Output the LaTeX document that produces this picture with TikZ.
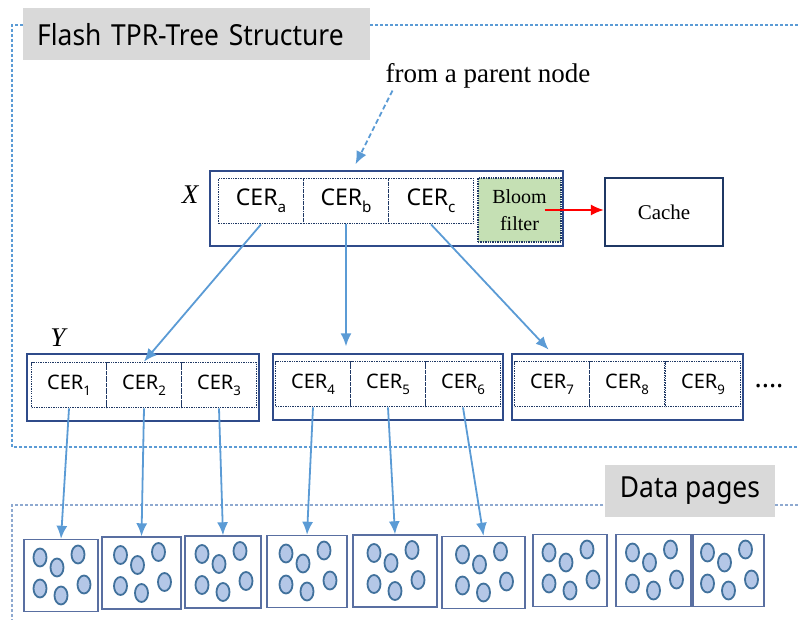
\documentclass[tikz,border=0pt]{standalone}
\usepackage{fontspec}
\setmainfont{Liberation Serif}
\setsansfont{Noto Sans}
\newfontfamily\tagfont[FakeStretch=0.91]{Noto Sans}
\usetikzlibrary{arrows.meta}

\definecolor{linkblue}{HTML}{5B9BD5}
\definecolor{pageblue}{HTML}{8EA9D0}
\definecolor{boxnavy}{HTML}{2F4B8A}
\definecolor{dotnavy}{HTML}{1F3864}
\definecolor{tagfill}{HTML}{D9D9D9}
\definecolor{bloomfill}{HTML}{C5E0B4}
\definecolor{itemfill}{HTML}{B4C7E7}
\definecolor{itemline}{HTML}{41719C}

% CER entry with its index set low
\newcommand{\cer}[1]{CER\raisebox{-.3em}{\scalebox{.66}{#1}}}

\begin{document}
\begin{tikzpicture}[x=1pt,y=-1pt,
				frame/.style={draw=linkblue,line width=1.3pt,dash pattern=on 3pt off 2pt},
				pageframe/.style={draw=pageblue,line width=1.1pt,dash pattern=on 3pt off 2pt},
				tag/.style={fill=tagfill,inner sep=0pt,font={\tagfont\fontsize{29}{29}\selectfont}},
				outer/.style={draw=boxnavy,line width=1.4pt,inner sep=0pt},
				cerbox/.style={draw=dotnavy,line width=1.8pt,dash pattern=on 1.4pt off 1pt,inner sep=0pt,
					minimum width=75pt,minimum height=45pt,font={\sffamily\fontsize{20}{20}\selectfont}},
				page/.style={draw=boxnavy!80,line width=1.4pt,inner sep=0pt,minimum height=72pt},
				item/.style={draw=itemline,fill=itemfill,line width=1.8pt},
				link/.style={->,draw=linkblue,line width=1.8pt},
				>={Latex[length=13pt,width=11pt]}]
				
				\useasboundingbox (0,0) rectangle (798,620);
				
				% Dashed frames
				\draw[frame] (798,25) -- (12,25) -- (12,447) -- (798,447);
				\draw[pageframe] (798,505) -- (12,505) -- (12,620);
				
				% Titles
				\node[tag,anchor=north west,minimum height=52pt,text width=319pt,inner xsep=14pt,align=left]
					(title) at (23,8) {Flash TPR-Tree Structure};
				\node[tag,minimum width=170pt,minimum height=52pt] (pagetag) at (690,491) {Data pages};
				
				% Node X
				\node[font={\fontsize{27}{27}\selectfont},inner sep=0pt] (parent) at (488,76) {from a parent node};
				\node[outer,minimum width=353pt,minimum height=75pt] (xbox) at (386.5,208.5) {};
				\node[font={\itshape\fontsize{27}{27}\selectfont}] (xlabel) at (190,195) {X};
				\node[cerbox,minimum width=85pt,font={\sffamily\fontsize{23}{23}\selectfont}] (cera) at (261,201) {\cer{a}};
				\node[cerbox,minimum width=85pt,font={\sffamily\fontsize{23}{23}\selectfont}] (cerb) at (346,201) {\cer{b}};
				\node[cerbox,minimum width=85pt,font={\sffamily\fontsize{23}{23}\selectfont}] (cerc) at (431,201) {\cer{c}};
				\node[cerbox,fill=bloomfill,minimum width=83pt,minimum height=64pt,align=center,
					font={\fontsize{20}{27}\selectfont}] (bloom) at (519.5,210) {Bloom\\filter};
				\node[draw=dotnavy,line width=2.2pt,minimum width=118pt,minimum height=68pt,
					font={\fontsize{21}{21}\selectfont}] (cache) at (664,212) {Cache};
				
				\draw[link,dash pattern=on 5pt off 3pt] ([xshift=7pt,yshift=-2pt]parent.south west) -- ([xshift=-31pt,yshift=6pt]xbox.north);
				\draw[->,red,line width=1.8pt] ([xshift=25pt]bloom.center) -- (bloom.center -| cache.west);
				
				% Nodes on level Y
				\node[font={\itshape\fontsize{27}{27}\selectfont}] (ylabel) at (58,338) {Y};
				\node[outer,minimum width=232pt,minimum height=67pt] (ybox1) at (143,387.5) {};
				\node[outer,minimum width=230pt,minimum height=66pt] (ybox2) at (388,387) {};
				\node[outer,minimum width=231pt,minimum height=66pt] (ybox3) at (627.5,387) {};
				\foreach \i/\x/\y in {1/69/385,2/144/385,3/219/385,4/313/384,5/388/384,6/463/384,7/552/384,8/627/384,9/703/384}
					\node[cerbox] (cer\i) at (\x,\y) {\cer{\i}};
				\node[font={\sffamily\bfseries\fontsize{27}{27}\selectfont}] (more) at (769,386) {....};
				
				\draw[link] (cera.south) -- (cer2.north);
				\draw[link,shorten >=7pt] (cerb.south) -- (cerb.south |- ybox2.north);
				\draw[link,shorten >=5pt] (cerc.south) -- (cer7.north |- ybox3.north);
				
				% Data pages
				\foreach \i/\x/\y/\w in {1/61/575.5/74,2/141.5/573/79,3/223/572/76,4/307/571.5/80,5/395/571/84,
						6/483.5/572.5/83,7/570/570.5/74,8/653.5/570.5/75,9/728.5/570.5/71} {
					\node[page,minimum width=\w pt] (p\i) at (\x,\y) {};
					\foreach \dx/\dy in {-21/-18,-4/-8,17/-21,-21/13,0/20,23/9}
						\draw[item] ([shift={(\dx,\dy)}]p\i.center) ellipse [x radius=6.5pt,y radius=9pt];
				}
				\foreach \i in {1,...,6}
					\draw[link] (cer\i.south) -- (p\i.north);
			\end{tikzpicture}
\end{document}
